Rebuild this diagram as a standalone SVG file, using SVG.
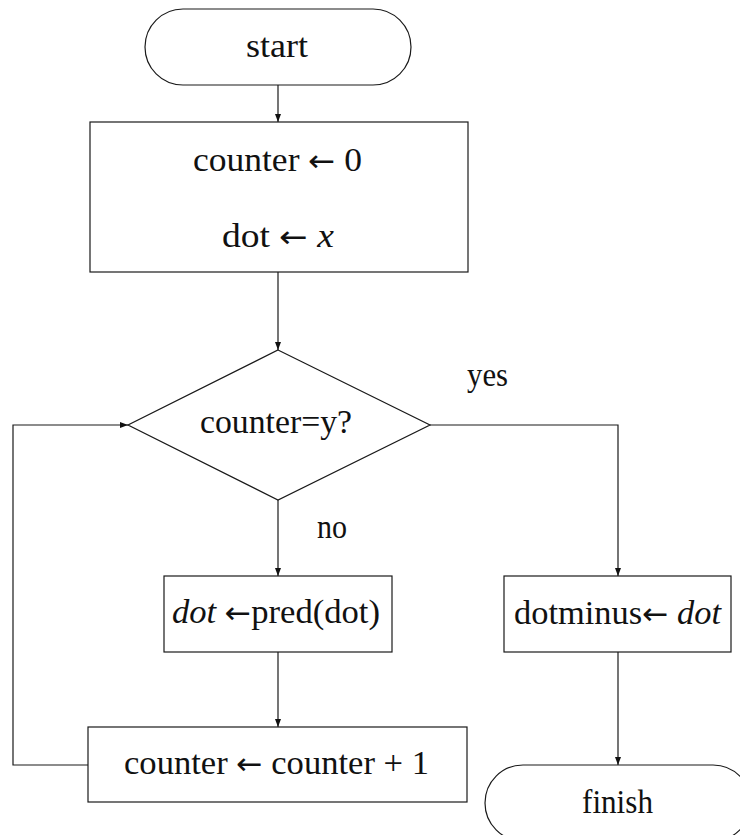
<svg xmlns="http://www.w3.org/2000/svg" width="740" height="835" viewBox="0 0 740 835">
  <style>
    .shape { fill: #ffffff; stroke: #1a1a1a; stroke-width: 1.2; }
    .wire { fill: none; stroke: #1a1a1a; stroke-width: 1.2; }
    .lbl { font-family: "Liberation Serif", "Times New Roman", serif; font-size: 33px; fill: #111111; text-anchor: middle; }
    .it { font-style: italic; }
    .ar { font-family: "DejaVu Sans", sans-serif; font-size: 30px; }
  </style>
  <defs>
    <marker id="arrow" markerWidth="9" markerHeight="7" refX="8" refY="3.5" orient="auto" markerUnits="userSpaceOnUse">
      <path d="M0,0.5 L8,3.5 L0,6.5 z" fill="#111111"/>
    </marker>
  </defs>
  <rect width="740" height="835" fill="#ffffff"/>

  <g id="connectors">
    <path class="wire" d="M278,85 L278,122" marker-end="url(#arrow)"/>
    <path class="wire" d="M278,272 L278,350" marker-end="url(#arrow)"/>
    <path class="wire" d="M278,500 L278,576" marker-end="url(#arrow)"/>
    <path class="wire" d="M278,652 L278,727" marker-end="url(#arrow)"/>
    <path class="wire" d="M88,765 L13,765 L13,425 L128,425" marker-end="url(#arrow)"/>
    <path class="wire" d="M430,425 L618,425 L618,576" marker-end="url(#arrow)"/>
    <path class="wire" d="M618,652 L618,765" marker-end="url(#arrow)"/>
    <text class="lbl" x="487.5" y="386" textLength="41" lengthAdjust="spacingAndGlyphs">yes</text>
    <text class="lbl" x="332" y="538" textLength="30" lengthAdjust="spacingAndGlyphs">no</text>
  </g>

  <g id="start">
    <rect class="shape" x="145" y="9" width="266" height="76" rx="38" ry="38"/>
    <text class="lbl" x="277" y="57" textLength="62" lengthAdjust="spacingAndGlyphs">start</text>
  </g>

  <g id="init">
    <rect class="shape" x="90" y="122" width="378" height="150"/>
    <text class="lbl" x="277.5" y="171" textLength="169" lengthAdjust="spacingAndGlyphs">counter <tspan class="ar">←</tspan> 0</text>
    <text class="lbl" x="278" y="247" textLength="112" lengthAdjust="spacingAndGlyphs">dot <tspan class="ar">←</tspan> <tspan class="it">x</tspan></text>
  </g>

  <g id="test">
    <polygon class="shape" points="278,350 430,425 278,500 128,425"/>
    <text class="lbl" x="276" y="433" textLength="152" lengthAdjust="spacingAndGlyphs">counter=y?</text>
  </g>

  <g id="pred">
    <rect class="shape" x="164" y="576" width="228" height="76"/>
    <text class="lbl" x="276" y="623" textLength="208" lengthAdjust="spacingAndGlyphs"><tspan class="it">dot</tspan> <tspan class="ar">←</tspan>pred(dot)</text>
  </g>

  <g id="increment">
    <rect class="shape" x="88" y="727" width="379" height="75"/>
    <text class="lbl" x="276.5" y="774" textLength="305" lengthAdjust="spacingAndGlyphs">counter <tspan class="ar">←</tspan> counter + 1</text>
  </g>

  <g id="assign">
    <rect class="shape" x="504" y="576" width="227" height="76"/>
    <text class="lbl" x="617.5" y="624" textLength="207" lengthAdjust="spacingAndGlyphs">dotminus<tspan class="ar">←</tspan> <tspan class="it">dot</tspan></text>
  </g>

  <g id="finish">
    <rect class="shape" x="485" y="765" width="266" height="76" rx="38" ry="38"/>
    <text class="lbl" x="617.5" y="813" textLength="71" lengthAdjust="spacingAndGlyphs">finish</text>
  </g>
</svg>
